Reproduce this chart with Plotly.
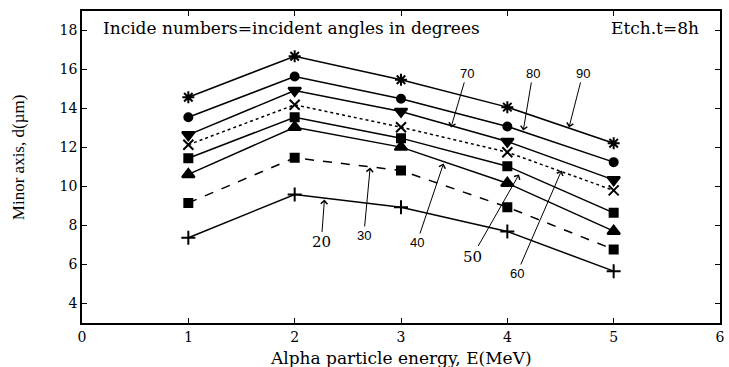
import plotly.graph_objects as go

energy = [1, 2, 3, 4, 5]
angles = [20, 30, 40, 50, 60, 70, 80, 90]
d20 = [7.37, 9.59, 8.94, 7.69, 5.66]
d30 = [9.16, 11.47, 10.82, 8.94, 6.77]
d40 = [10.62, 13.04, 12.02, 10.17, 7.71]
d50 = [11.45, 13.55, 12.48, 11.04, 8.65]
d60 = [12.14, 14.19, 13.04, 11.76, 9.80]
d70 = [12.65, 14.92, 13.85, 12.31, 10.34]
d80 = [13.55, 15.64, 14.50, 13.08, 11.25]
d90 = [14.58, 16.68, 15.47, 14.07, 12.22]

series = [d20, d30, d40, d50, d60, d70, d80, d90]
symbols = ["cross-thin-open", "square", "triangle-up", "square", "x-thin-open",
           "triangle-down", "circle", "asterisk-open"]
sizes = [10, 8, 11, 8, 10, 11, 8, 10]
dashes = ["solid", "dash", "solid", "solid", "dot", "solid", "solid", "solid"]

# annotation label positions (text) and arrow tips, data coords
label_x = [2.25, 2.65, 3.15, 3.67, 4.09, 3.62, 4.24, 4.71]
label_y = [7.13, 7.49, 7.13, 6.41, 5.54, 15.8, 15.8, 15.8]
tip_x = [2.28, 2.71, 3.40, 4.11, 4.51, 3.47, 4.15, 4.58]
tip_y = [9.33, 10.97, 11.18, 10.62, 10.82, 13.03, 12.87, 13.03]

SERIF = "DejaVu Serif, serif"

fig = go.Figure()
for s, sym, sz, dsh, a in zip(series, symbols, sizes, dashes, angles):
    fig.add_trace(go.Scatter(
        x=energy, y=s, mode="lines+markers", name=str(a),
        line=dict(color="black", width=1.5, dash=dsh),
        marker=dict(symbol=sym, size=sz, color="black",
                    line=dict(color="black", width=2)),
        showlegend=False))

for a, lx, ly, tx, ty in zip(angles, label_x, label_y, tip_x, tip_y):
    serif = a in (20, 50)
    fig.add_annotation(
        x=tx, y=ty, ax=lx, ay=ly, axref="x", ayref="y", xref="x", yref="y",
        text=str(a), showarrow=True, arrowhead=4, arrowsize=1.3, arrowwidth=1,
        arrowcolor="black", standoff=0, startstandoff=0,
        font=dict(family=SERIF if serif else "Liberation Sans",
                  size=15 if serif else 13, color="black"))

fig.add_annotation(x=0.03, y=0.985, xref="paper", yref="paper", xanchor="left",
                   yanchor="top", showarrow=False,
                   text="Incide numbers=incident angles in degrees",
                   font=dict(family=SERIF, size=17, color="black"))
fig.add_annotation(x=0.97, y=0.985, xref="paper", yref="paper", xanchor="right",
                   yanchor="top", showarrow=False, text="Etch.t=8h",
                   font=dict(family=SERIF, size=17, color="black"))
fig.add_annotation(x=-0.0995, y=0.53, xref="paper", yref="paper", xanchor="center",
                   yanchor="middle", showarrow=False, textangle=-90,
                   text="Minor axis, d(µm)",
                   font=dict(family="Liberation Serif", size=17, color="black"))
fig.add_annotation(x=0.5, y=-0.075, xref="paper", yref="paper", xanchor="center",
                   yanchor="top", showarrow=False,
                   text="Alpha particle energy, E(MeV)",
                   font=dict(family=SERIF, size=17, color="black"))

axis_common = dict(showgrid=False, zeroline=False, showline=True, linecolor="black",
                   linewidth=1.5, mirror="ticks", ticks="inside", ticklen=5,
                   tickcolor="black", tickfont=dict(family=SERIF, size=14,
                                                    color="black"))
fig.update_xaxes(range=[0, 6], dtick=1, ticklabelstandoff=0, **axis_common)
fig.update_yaxes(range=[3, 19], tickvals=[4, 6, 8, 10, 12, 14, 16, 18],
                 **axis_common)

fig.update_layout(width=729, height=367, margin=dict(l=82, r=4, t=11, b=44),
                  plot_bgcolor="white", paper_bgcolor="white")
fig.write_html("out.html")
